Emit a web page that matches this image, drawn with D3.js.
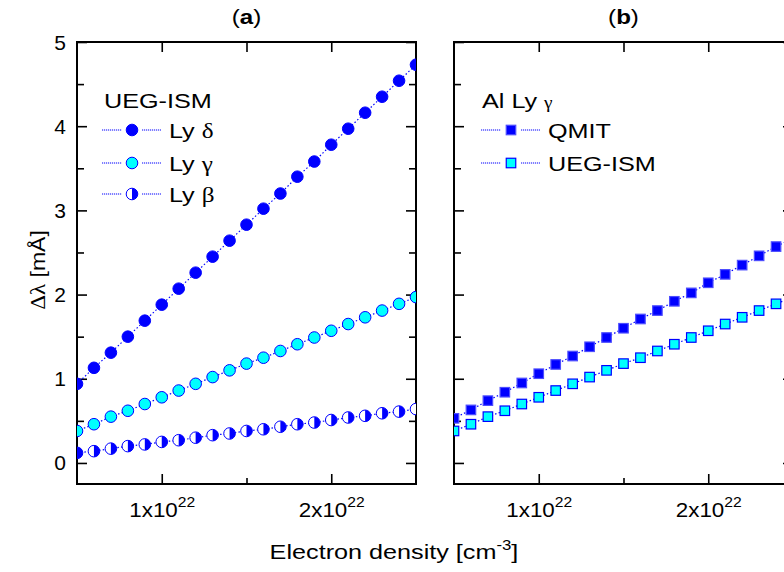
<!DOCTYPE html>
<html>
<head>
<meta charset="utf-8">
<script src="https://cdn.jsdelivr.net/npm/d3@7"></script>
<style>
  body { margin: 0; background: #fff; }
  text { font-family: "Liberation Sans", Arial, sans-serif; }
  .greek { font-family: "Liberation Serif", "Times New Roman", serif; }
</style>
</head>
<body>
<script>
// electron density in units of 1e22 cm^-3
var density = [0.5, 0.6, 0.7, 0.8, 0.9, 1.0, 1.1, 1.2, 1.3, 1.4, 1.5,
               1.6, 1.7, 1.8, 1.9, 2.0, 2.1, 2.2, 2.3, 2.4, 2.5];

// panel (a) UEG-ISM shifts [mA]
var lyDelta = [0.94, 1.13, 1.31, 1.50, 1.69, 1.88, 2.07, 2.26, 2.45, 2.64, 2.83,
               3.02, 3.20, 3.40, 3.58, 3.78, 3.97, 4.16, 4.35, 4.54, 4.73];
var lyGamma = [0.38, 0.46, 0.55, 0.62, 0.70, 0.78, 0.86, 0.94, 1.02, 1.10, 1.18,
               1.25, 1.33, 1.41, 1.49, 1.57, 1.65, 1.73, 1.81, 1.89, 1.97];
var lyBeta  = [0.12, 0.14, 0.17, 0.20, 0.22, 0.25, 0.27, 0.30, 0.33, 0.35, 0.38,
               0.40, 0.43, 0.46, 0.48, 0.51, 0.54, 0.56, 0.59, 0.61, 0.64];

// panel (b) Al Ly gamma
var qmit    = [0.53, 0.63, 0.74, 0.84, 0.95, 1.06, 1.17, 1.27, 1.38, 1.49, 1.60,
               1.71, 1.81, 1.92, 2.02, 2.14, 2.24, 2.35, 2.46, 2.57, 2.67];
var uegIsm  = lyGamma;

var xMajor = [1, 2];
var xMinor = [1.5];
var yMajor = [0, 1, 2, 3, 4, 5];
var yMinor = [0.5, 1.5, 2.5, 3.5, 4.5];

(function() {
var W = 784, H = 572;
var plotTop = 42, plotBottom = 484, pw = 339;
var blue = "#0000ff", cyan = "#00ffff";

var svg = d3.select("body").append("svg").attr("width", W).attr("height", H);

var y = d3.scaleLinear().domain([-0.25, 5]).range([plotBottom, plotTop]);

function zip(a, b) { return a.map(function(v, i) { return [v, b[i]]; }); }

// reference text is drawn a bit wide
function wideText(parent, x, yy, size, sx) {
  return parent.append("text")
    .attr("transform", "translate(" + x + "," + yy + ") scale(" + (sx || 1.2) + ",1)")
    .attr("font-size", size).attr("fill", "#000");
}

// markers
function circle(g, cx, cy, fill) {
  g.append("circle").attr("cx", cx).attr("cy", cy).attr("r", 5.8)
    .attr("fill", fill).attr("stroke", blue).attr("stroke-width", 1);
}
function halfCircle(g, cx, cy) {
  var r = 5.8;
  g.append("circle").attr("cx", cx).attr("cy", cy).attr("r", r)
    .attr("fill", "#fff").attr("stroke", blue).attr("stroke-width", 1);
  g.append("path")
    .attr("d", "M" + cx + "," + (cy - r) + " A" + r + "," + r + " 0 0 1 " + cx + "," + (cy + r) + " Z")
    .attr("fill", blue);
}
function square(g, cx, cy, fill) {
  var s = 9.5;
  g.append("rect").attr("x", cx - s / 2).attr("y", cy - s / 2).attr("width", s).attr("height", s)
    .attr("fill", fill).attr("stroke", fill == blue ? "#4d4dff" : blue).attr("stroke-width", 1.2);
}

function makePanel(left, id, label) {
  var x = d3.scaleLinear().domain([0.5, 2.5]).range([left, left + pw]);
  var g = svg.append("g");

  g.append("clipPath").attr("id", "clip" + id)
    .append("rect").attr("x", left).attr("y", plotTop).attr("width", pw).attr("height", plotBottom - plotTop);

  // ticks, all pointing inward
  function ax(a, ticks, size, tr) {
    var s = g.append("g").attr("transform", tr)
      .call(a.tickValues(ticks).tickSize(-size).tickSizeOuter(0).tickFormat(""));
    s.select(".domain").remove();
    s.selectAll(".tick text").remove();
    s.selectAll(".tick line").attr("stroke", "#000").attr("stroke-width", 1.6);
    return s;
  }
  var xb = ax(d3.axisBottom(x), xMajor, 10, "translate(0," + plotBottom + ")");
  ax(d3.axisBottom(x), xMinor, 6, "translate(0," + plotBottom + ")");
  ax(d3.axisTop(x), xMajor.concat(xMinor), 10, "translate(0," + plotTop + ")");
  var yl = ax(d3.axisLeft(y), yMajor, 10, "translate(" + left + ",0)");
  ax(d3.axisLeft(y), yMinor, 7, "translate(" + left + ",0)");
  ax(d3.axisRight(y), yMajor, 10, "translate(" + (left + pw) + ",0)");
  ax(d3.axisRight(y), yMinor, 7, "translate(" + (left + pw) + ",0)");

  xb.selectAll(".tick").each(function(d) {
    var t = wideText(d3.select(this), 0, 33, 20, 1.12).attr("text-anchor", "middle");
    t.append("tspan").text(d + "x10");
    t.append("tspan").attr("dy", -10).attr("font-size", 14).text("22");
  });

  g.append("rect").attr("x", left).attr("y", plotTop).attr("width", pw).attr("height", plotBottom - plotTop)
    .attr("fill", "none").attr("stroke", "#000").attr("stroke-width", 2);

  var title = wideText(g, left + pw / 2, 24, 21, 1.15).attr("text-anchor", "middle");
  title.append("tspan").text("(");
  title.append("tspan").attr("font-weight", "bold").text(label);
  title.append("tspan").text(")");

  var plot = g.append("g").attr("clip-path", "url(#clip" + id + ")");
  return { x: x, g: g, plot: plot, yl: yl };
}

function series(p, vals, draw) {
  var pts = zip(density, vals);
  var line = d3.line().x(function(d) { return p.x(d[0]); }).y(function(d) { return y(d[1]); });
  p.plot.append("path").attr("d", line(pts)).attr("fill", "none")
    .attr("stroke", blue).attr("stroke-width", 1.2).attr("stroke-dasharray", "1.5,2.2");
  pts.forEach(function(d) { draw(p.plot, p.x(d[0]), y(d[1])); });
}

function legendRow(g, x0, yy, draw, labelParts) {
  var seg = function(a, b) {
    g.append("line").attr("x1", a).attr("x2", b).attr("y1", yy).attr("y2", yy)
      .attr("stroke", blue).attr("stroke-width", 1).attr("stroke-dasharray", "1.2,0.8");
  };
  seg(x0, x0 + 20);
  seg(x0 + 40, x0 + 59);
  draw(g, x0 + 30, yy);
  var t = wideText(g, x0 + 67, yy + 8, 21);
  labelParts.forEach(function(p) {
    var s = t.append("tspan").text(p[0]);
    if (p[1]) s.attr("class", "greek");
  });
}

// panel (a)
var pa = makePanel(77, "a", "a");
series(pa, lyBeta, halfCircle);
series(pa, lyGamma, function(g, cx, cy) { circle(g, cx, cy, cyan); });
series(pa, lyDelta, function(g, cx, cy) { circle(g, cx, cy, blue); });

pa.yl.selectAll(".tick").each(function(d) {
  wideText(d3.select(this), -11, 7, 20, 1.05).attr("text-anchor", "end").text(d);
});

wideText(pa.g, 104, 108, 21).text("UEG-ISM");
legendRow(pa.g, 102, 130, function(g, cx, cy) { circle(g, cx, cy, blue); }, [["Ly "], ["\u03b4", 1]]);
legendRow(pa.g, 102, 163, function(g, cx, cy) { circle(g, cx, cy, cyan); }, [["Ly "], ["\u03b3", 1]]);
legendRow(pa.g, 102, 194, halfCircle, [["Ly "], ["\u03b2", 1]]);

// panel (b)
var pb = makePanel(454, "b", "b");
series(pb, uegIsm, function(g, cx, cy) { square(g, cx, cy, cyan); });
series(pb, qmit, function(g, cx, cy) { square(g, cx, cy, blue); });

var tb = wideText(pb.g, 482, 108, 21);
tb.append("tspan").text("Al Ly ");
tb.append("tspan").attr("class", "greek").attr("font-size", 16).text("\u03b3");
legendRow(pb.g, 481, 130, function(g, cx, cy) { square(g, cx, cy, blue); }, [["QMIT"]]);
legendRow(pb.g, 481, 163, function(g, cx, cy) { square(g, cx, cy, cyan); }, [["UEG-ISM"]]);

// axis titles
var xt = wideText(svg, 394, 559, 21).attr("text-anchor", "middle");
xt.append("tspan").text("Electron density [cm");
xt.append("tspan").attr("dy", -9).attr("font-size", 14).text("-3");
xt.append("tspan").attr("dy", 9).text("]");

var yt = svg.append("text").attr("transform", "translate(45,270) rotate(-90) scale(1.15,1)")
  .attr("text-anchor", "middle").attr("font-size", 20);
yt.append("tspan").attr("class", "greek").text("\u0394\u03bb");
yt.append("tspan").text(" [m\u00c5]");
})();
</script>
</body>
</html>
